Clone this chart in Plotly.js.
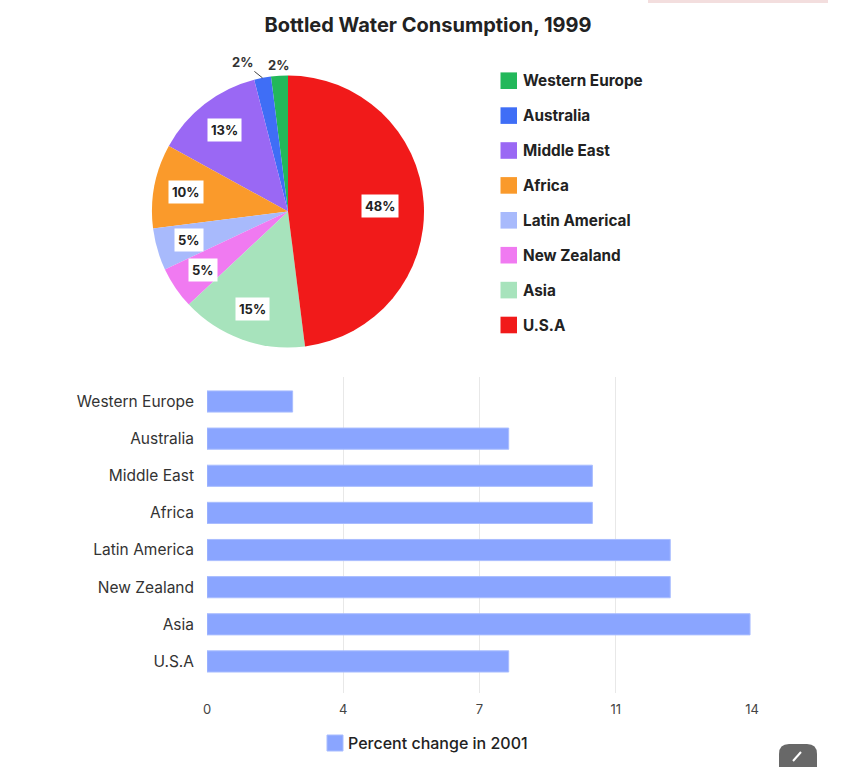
<!DOCTYPE html>
<html>
<head>
<meta charset="utf-8">
<script src="https://cdn.plot.ly/plotly-3.0.1.min.js"></script>
<style>
  html, body { margin: 0; padding: 0; background: #ffffff; }
  #chart { width: 856px; height: 767px; }
</style>
</head>
<body>
<div id="chart"></div>
<script>
// Bottled water consumption share, 1999 (pie)
const pieLabels = ['Western Europe', 'Australia', 'Middle East', 'Africa',
                   'Latin Americal', 'New Zealand', 'Asia', 'U.S.A'];
const pieValues = [2, 2, 13, 10, 5, 5, 15, 48];
const pieColors = ['#22b85a', '#3f6ef6', '#9a68f4', '#fa9a2b',
                   '#a8bafc', '#f07af1', '#a7e3bc', '#f11a1a'];

// Percent change in 2001 (horizontal bars)
const barCategories = ['Western Europe', 'Australia', 'Middle East', 'Africa',
                       'Latin America', 'New Zealand', 'Asia', 'U.S.A'];
const barValues = [2.2, 7.75, 9.9, 9.9, 11.9, 11.9, 13.95, 7.75];
const barSeriesName = 'Percent change in 2001';
const barColor = '#8aa5ff';
const xTickVals = [0, 3.5, 7, 10.5, 14];
const xTickText = ['0', '4', '7', '11', '14'];

const W = 856, H = 767;
const px = x => x / W;          // pixel -> paper x
const py = y => 1 - y / H;      // pixel -> paper y

// pie geometry (pixels)
const pieCx = 288, pieCy = 211.5, pieR = 136;
const FONT = 'Inter, "Noto Sans", "DejaVu Sans", sans-serif';

const total = pieValues.reduce((a, b) => a + b, 0);

// counterclockwise pies in plotly end their first slice at `rotation`,
// so shift by the first slice to make it start at 12 o'clock
const pieTrace = {
  type: 'pie',
  labels: pieLabels,
  values: pieValues,
  marker: { colors: pieColors, line: { width: 0 } },
  sort: false,
  direction: 'counterclockwise',
  rotation: -pieValues[0] / total * 360,
  textinfo: 'none',
  hoverinfo: 'label+percent',
  showlegend: false,
  domain: { x: [px(pieCx - pieR), px(pieCx + pieR)],
            y: [py(pieCy + pieR), py(pieCy - pieR)] }
};

const barTrace = {
  type: 'bar',
  orientation: 'h',
  name: barSeriesName,
  x: barValues,
  y: barCategories,
  width: 0.57,
  marker: { color: barColor, line: { color: '#a9bdff', width: 1 } },
  showlegend: false
};

// percentage labels placed at each slice's mid-angle
const annotations = [];
let cum = 0, smallCount = 0;
pieValues.forEach((v, i) => {
  const mid = (cum + v / 2) / total * 2 * Math.PI; // counterclockwise from top
  cum += v;
  const pct = Math.round(v / total * 100) + '%';
  const sx = -Math.sin(mid), sy = -Math.cos(mid);
  if (v / total >= 0.04) {
    const r = pieR * (v / total > 0.3 ? 0.68 : 0.76);
    annotations.push({
      xref: 'paper', yref: 'paper',
      x: px(pieCx + sx * r), y: py(pieCy + sy * r),
      xanchor: 'center', yanchor: 'middle',
      text: '<b>' + pct + '</b>', showarrow: false,
      font: { family: FONT, size: 13, color: '#222' },
      bgcolor: '#ffffff', borderpad: 3
    });
  } else {
    const ex = pieCx + sx * pieR, ey = pieCy + sy * pieR;
    if (smallCount === 0) {
      annotations.push({
        xref: 'paper', yref: 'paper',
        x: px(pieCx + sx * pieR * 1.08), y: py(pieCy + sy * pieR * 1.08),
        xanchor: 'center', yanchor: 'middle',
        text: '<b>' + pct + '</b>', showarrow: false,
        font: { family: FONT, size: 13, color: '#333' }
      });
    } else {
      annotations.push({
        xref: 'paper', yref: 'paper',
        x: px(ex), y: py(ey),
        ax: -20, ay: -16,
        text: '<b>' + pct + '</b>', showarrow: true,
        arrowhead: 0, arrowwidth: 1, arrowcolor: '#444', standoff: 0,
        font: { family: FONT, size: 13, color: '#333' }
      });
    }
    smallCount++;
  }
});

// pie legend: swatches + labels
const shapes = [];
pieLabels.forEach((lab, i) => {
  const yc = 80.7 + i * 34.9;
  shapes.push({
    type: 'rect', xref: 'paper', yref: 'paper',
    x0: px(500.5), x1: px(517), y0: py(yc + 8.3), y1: py(yc - 8.3),
    fillcolor: pieColors[i], line: { width: 0 }
  });
  annotations.push({
    xref: 'paper', yref: 'paper', x: px(520.5), y: py(yc),
    xanchor: 'left', yanchor: 'middle', showarrow: false,
    text: '<b>' + lab + '</b>',
    font: { family: FONT, size: 15.3, color: '#222' }
  });
});

// bar legend below the axis
shapes.push({
  type: 'rect', xref: 'paper', yref: 'paper',
  x0: px(327), x1: px(343), y0: py(751), y1: py(735),
  fillcolor: barColor, line: { color: '#a9bdff', width: 1 }
});
annotations.push({
  xref: 'paper', yref: 'paper', x: px(346), y: py(743),
  xanchor: 'left', yanchor: 'middle', showarrow: false,
  text: barSeriesName,
  font: { family: FONT, size: 16, color: '#222', weight: 500 }
});

// small editor button in the bottom-right corner
const bx0 = 779, bx1 = 817, by0 = 744, by1 = 772, br = 10;
shapes.push({
  type: 'path', xref: 'paper', yref: 'paper',
  path: `M ${px(bx0 + br)} ${py(by0)} L ${px(bx1 - br)} ${py(by0)} ` +
        `Q ${px(bx1)} ${py(by0)} ${px(bx1)} ${py(by0 + br)} L ${px(bx1)} ${py(by1)} ` +
        `L ${px(bx0)} ${py(by1)} L ${px(bx0)} ${py(by0 + br)} ` +
        `Q ${px(bx0)} ${py(by0)} ${px(bx0 + br)} ${py(by0)} Z`,
  fillcolor: '#686868', line: { width: 0 }, layer: 'above'
});
shapes.push({
  type: 'path', xref: 'paper', yref: 'paper',
  path: `M ${px(793)} ${py(761)} L ${px(801)} ${py(752)}`,
  line: { color: '#ffffff', width: 2 }, layer: 'above'
});
// faint strip along the top edge
shapes.push({
  type: 'rect', xref: 'paper', yref: 'paper',
  x0: px(648), x1: px(828), y0: py(3), y1: py(0),
  fillcolor: '#f3dede', line: { width: 0 }, layer: 'below'
});

const layout = {
  width: W, height: H,
  margin: { l: 0, r: 0, t: 0, b: 0 },
  paper_bgcolor: '#ffffff', plot_bgcolor: '#ffffff',
  font: { family: FONT, color: '#333' },
  showlegend: false,
  title: {
    text: '<b>Bottled Water Consumption, 1999</b>',
    x: 0.5, xanchor: 'center', y: py(25), yanchor: 'middle',
    font: { family: FONT, size: 20, color: '#222' }
  },
  xaxis: {
    domain: [px(207), px(752)],
    range: [0, 14],
    tickvals: xTickVals, ticktext: xTickText,
    showgrid: true, gridcolor: '#e8e8e8', gridwidth: 1,
    zeroline: false, showline: false, ticks: '',
    ticklabelstandoff: 7,
    tickfont: { family: FONT, size: 13, color: '#444' },
    fixedrange: true
  },
  yaxis: {
    domain: [py(693), py(377)],
    type: 'category',
    categoryorder: 'array', categoryarray: barCategories,
    range: [7.85, -0.66],
    showgrid: false, zeroline: false, showline: false, ticks: '',
    ticklabelstandoff: 12,
    tickfont: { family: FONT, size: 15.5, color: '#333' },
    fixedrange: true
  },
  annotations: annotations,
  shapes: shapes
};

Plotly.newPlot('chart', [pieTrace, barTrace], layout, { displayModeBar: false, staticPlot: true });
</script>
</body>
</html>
